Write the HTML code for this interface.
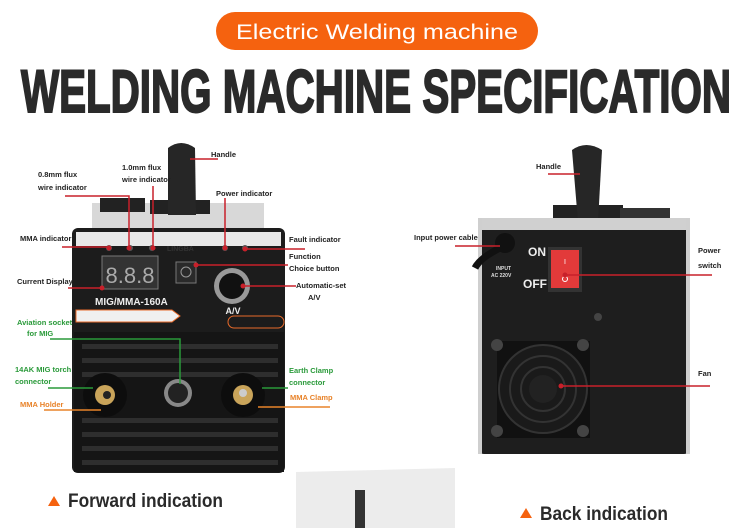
<!DOCTYPE html>
<html><head><meta charset="utf-8"><style>
html,body{margin:0;padding:0;background:#fff;}
svg{display:block;}
text{font-family:"Liberation Sans",sans-serif;}
</style></head><body>
<svg width="750" height="528" viewBox="0 0 750 528" xmlns="http://www.w3.org/2000/svg">
<rect width="750" height="528" fill="#fff"/>
<!-- header -->
<rect x="216" y="12" width="322" height="38" rx="19" fill="#f5620f"/>
<text x="236" y="39" font-size="21" fill="#fff" textLength="282" lengthAdjust="spacingAndGlyphs">Electric  Welding machine</text>
<text x="21" y="112" font-size="60" font-weight="bold" fill="#2a2a2a" stroke="#2a2a2a" stroke-width="2" textLength="710" lengthAdjust="spacingAndGlyphs">WELDING MACHINE SPECIFICATION</text>

<!-- LEFT MACHINE -->
<rect x="92" y="203" width="172" height="30" fill="#d8d8d8"/>
<rect x="100" y="198" width="45" height="14" fill="#222"/>
<rect x="150" y="200" width="60" height="14" fill="#222"/>
<path d="M168 148 Q181 138 195 148 L196 215 L168 215 Z" fill="#262626"/>
<rect x="72" y="228" width="213" height="245" rx="6" fill="#1c1c1c"/>
<rect x="76" y="232" width="205" height="14" fill="#e8e8e8"/>
<circle cx="109" cy="248" r="3" fill="#555"/><circle cx="130" cy="248" r="3" fill="#555"/><circle cx="152" cy="248" r="3" fill="#555"/>
<circle cx="225" cy="248" r="3" fill="#555"/><circle cx="245" cy="248" r="3" fill="#555"/>
<text x="167" y="251" font-size="7" font-weight="bold" fill="#333">LINGBA</text>
<rect x="102" y="256" width="56" height="33" fill="#333" stroke="#777"/>
<text x="130" y="283" text-anchor="middle" font-size="22" fill="#aaa" font-family="Liberation Mono,monospace">8.8.8</text>
<rect x="176" y="262" width="20" height="21" fill="#2a2a2a" stroke="#777"/>
<circle cx="186" cy="272" r="5" fill="none" stroke="#999"/>
<circle cx="232" cy="286" r="18" fill="#999"/>
<circle cx="232" cy="286" r="13" fill="#111"/>
<text x="233" y="314" text-anchor="middle" font-size="9" font-weight="bold" fill="#eee">A/V</text>
<text x="95" y="305" font-size="10" font-weight="bold" fill="#eee">MIG/MMA-160A</text>
<path d="M76 310 L172 310 L180 316 L172 322 L76 322 Z" fill="#f0f0f0" stroke="#e86a2a"/>
<rect x="228" y="316" width="56" height="12" rx="6" fill="none" stroke="#e86a2a"/>
<rect x="74" y="332" width="210" height="140" fill="#151515"/>
<g fill="#2e2e2e">
<rect x="82" y="344" width="196" height="5"/><rect x="82" y="358" width="196" height="5"/>
<rect x="82" y="372" width="196" height="5"/><rect x="82" y="418" width="196" height="5"/>
<rect x="82" y="432" width="196" height="5"/><rect x="82" y="446" width="196" height="5"/>
<rect x="82" y="460" width="196" height="5"/>
</g>
<circle cx="105" cy="395" r="22" fill="#0d0d0d"/><circle cx="105" cy="395" r="10" fill="#c9a45a"/><circle cx="107" cy="395" r="4" fill="#222"/>
<circle cx="178" cy="393" r="14" fill="#888"/><circle cx="178" cy="393" r="10" fill="#222"/>
<circle cx="243" cy="395" r="22" fill="#0d0d0d"/><circle cx="243" cy="395" r="10" fill="#c9a45a"/><circle cx="243" cy="393" r="4" fill="#ccc"/>

<!-- left labels -->
<g font-size="7.5" font-weight="bold" fill="#222">
<text x="38" y="177">0.8mm flux</text><text x="38" y="190">wire indicator</text>
<text x="122" y="170">1.0mm flux</text><text x="122" y="182">wire indicator</text>
<text x="211" y="157">Handle</text>
<text x="216" y="196">Power indicator</text>
<text x="20" y="241">MMA indicator</text>
<text x="289" y="242">Fault indicator</text>
<text x="289" y="259">Function</text><text x="289" y="271">Choice button</text>
<text x="17" y="284">Current Display</text>
<text x="296" y="288">Automatic-set</text><text x="308" y="300">A/V</text>
</g>
<g stroke="#c8202a" stroke-width="1.5" fill="none">
<path d="M65 196 H129 V248"/><path d="M153 186 V248"/><path d="M190 159 H218"/>
<path d="M225 198 V248"/><path d="M62 247 H109"/><path d="M245 249 H305"/>
<path d="M196 265 H288"/><path d="M68 288 H102"/><path d="M243 286 H296"/>
</g>
<g fill="#c8202a"><circle cx="109" cy="248" r="2.5"/><circle cx="129" cy="248" r="2.5"/><circle cx="153" cy="248" r="2.5"/><circle cx="225" cy="248" r="2.5"/><circle cx="245" cy="249" r="2.5"/><circle cx="196" cy="265" r="2.5"/><circle cx="102" cy="288" r="2.5"/><circle cx="243" cy="286" r="2.5"/></g>
<g font-size="7.5" font-weight="bold" fill="#2a9a3a">
<text x="17" y="325">Aviation socket</text><text x="27" y="336">for MIG</text>
<text x="15" y="372">14AK MIG torch</text><text x="15" y="384">connector</text>
<text x="289" y="373">Earth Clamp</text><text x="289" y="385">connector</text>
</g>
<g stroke="#2a9a3a" stroke-width="1.5" fill="none"><path d="M50 339 H180 V384"/><path d="M48 388 H93"/><path d="M262 388 H288"/></g>
<g font-size="7.5" font-weight="bold" fill="#e8832a">
<text x="20" y="407">MMA  Holder</text><text x="290" y="400">MMA Clamp</text>
</g>
<g stroke="#e8832a" stroke-width="1.5" fill="none"><path d="M44 410 H101"/><path d="M258 407 H330"/></g>

<!-- RIGHT MACHINE -->
<rect x="553" y="205" width="70" height="20" fill="#222"/>
<rect x="620" y="208" width="50" height="20" fill="#333"/>
<path d="M572 150 Q586 140 602 150 L598 222 L578 222 Z" fill="#262626"/>
<rect x="478" y="218" width="212" height="236" rx="6" fill="#1e1e1e"/>
<rect x="480" y="218" width="208" height="12" fill="#d0d0d0"/>
<rect x="478" y="218" width="4" height="236" fill="#cfcfcf"/><rect x="686" y="218" width="4" height="236" fill="#cfcfcf"/>
<circle cx="505" cy="243" r="10" fill="#111"/>
<path d="M500 248 Q480 258 475 268" stroke="#111" stroke-width="7" fill="none"/>
<text x="496" y="270" font-size="5" font-weight="bold" fill="#ddd">INPUT</text><text x="491" y="277" font-size="5" font-weight="bold" fill="#ddd">AC 220V</text>
<text x="528" y="256" font-size="12" font-weight="bold" fill="#eee">ON</text>
<text x="523" y="288" font-size="12" font-weight="bold" fill="#eee">OFF</text>
<rect x="548" y="247" width="34" height="45" fill="#333"/>
<rect x="551" y="250" width="28" height="38" fill="#e23a3a"/>
<text x="565" y="264" text-anchor="middle" font-size="7" fill="#fff">I</text>
<circle cx="565" cy="279" r="2.5" fill="none" stroke="#fff"/>
<rect x="497" y="341" width="93" height="97" fill="#111"/>
<circle cx="543" cy="389" r="44" fill="#1a1a1a" stroke="#333" stroke-width="2"/>
<circle cx="543" cy="389" r="33" fill="none" stroke="#333" stroke-width="2"/>
<circle cx="543" cy="389" r="22" fill="none" stroke="#333" stroke-width="2"/>
<circle cx="543" cy="389" r="14" fill="#222"/>
<g fill="#444"><circle cx="497" cy="345" r="6"/><circle cx="583" cy="345" r="6"/><circle cx="497" cy="431" r="6"/><circle cx="583" cy="431" r="6"/><circle cx="598" cy="317" r="4"/></g>
<g font-size="7.5" font-weight="bold" fill="#222">
<text x="536" y="169">Handle</text>
<text x="414" y="240">Input power cable</text>
<text x="698" y="253">Power</text><text x="698" y="268">switch</text>
<text x="698" y="376">Fan</text>
</g>
<g stroke="#c8202a" stroke-width="1.5" fill="none"><path d="M548 174 H580"/><path d="M455 246 H500"/><path d="M565 275 H712"/><path d="M561 386 H710"/></g>
<g fill="#c8202a"><circle cx="565" cy="275" r="2.5"/><circle cx="561" cy="386" r="2.5"/></g>

<!-- bottom -->
<path d="M296 472 L455 468 L455 528 L296 528 Z" fill="#ececec"/>
<rect x="355" y="490" width="10" height="38" fill="#333"/>
<polygon points="48,506 54,496 60,506" fill="#f5620f"/>
<text x="68" y="507" font-size="19" font-weight="bold" fill="#2a2a2a" textLength="155" lengthAdjust="spacingAndGlyphs">Forward indication</text>
<polygon points="520,518 526,508 532,518" fill="#f5620f"/>
<text x="540" y="520" font-size="19" font-weight="bold" fill="#2a2a2a" textLength="128" lengthAdjust="spacingAndGlyphs">Back indication</text>
</svg>
</body></html>
